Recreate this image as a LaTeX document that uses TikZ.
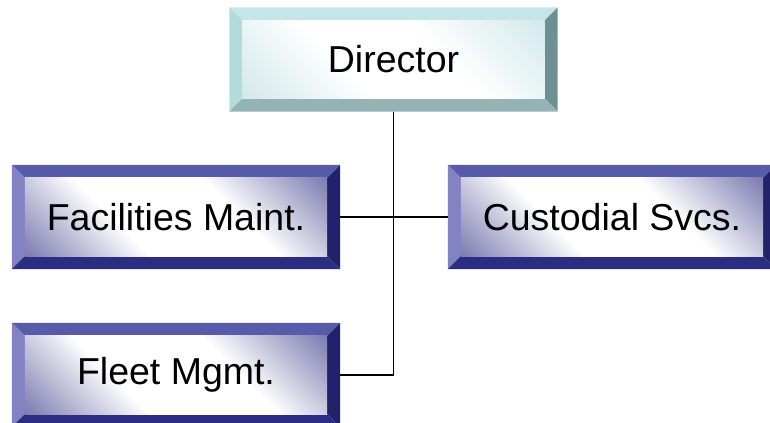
\documentclass[tikz,border=0pt]{standalone}
\usepackage{fontspec}
\setmainfont{Liberation Sans}
\usetikzlibrary{calc}
\definecolor{bltop}{HTML}{5A5AAB}
\definecolor{blleft}{HTML}{8383C4}
\definecolor{blright}{HTML}{22226A}
\definecolor{blbot}{HTML}{2C2C82}
\definecolor{bledge}{HTML}{7E7EB2}
\definecolor{drtop}{HTML}{C5E5E8}
\definecolor{drleft}{HTML}{B3DADD}
\definecolor{drright}{HTML}{6F9093}
\definecolor{drbot}{HTML}{93B3B5}
\definecolor{dredge}{HTML}{D3E9EB}
\pgfdeclareverticalshading{blface}{100bp}{color(0bp)=(bledge); color(15bp)=(bledge); color(38bp)=(white); color(62bp)=(white); color(85bp)=(bledge); color(100bp)=(bledge)}
\pgfdeclareverticalshading{drface}{100bp}{color(0bp)=(dredge); color(15bp)=(dredge); color(40bp)=(white); color(60bp)=(white); color(85bp)=(dredge); color(100bp)=(dredge)}
\def\bv{0.39cm}
\newcommand\bevelfill[5]{%
  \coordinate (bNW) at (path picture bounding box.north west);
  \coordinate (bNE) at (path picture bounding box.north east);
  \coordinate (bSW) at (path picture bounding box.south west);
  \coordinate (bSE) at (path picture bounding box.south east);
  \coordinate (iNW) at ([shift={(\bv,-\bv)}]bNW);
  \coordinate (iNE) at ([shift={(-\bv,-\bv)}]bNE);
  \coordinate (iSW) at ([shift={(\bv,\bv)}]bSW);
  \coordinate (iSE) at ([shift={(-\bv,\bv)}]bSE);
  \fill[#1] (bNW) -- (bNE) -- (iNE) -- (iNW) -- cycle;
  \fill[#2] (bNW) -- (iNW) -- (iSW) -- (bSW) -- cycle;
  \fill[#3] (bNE) -- (bSE) -- (iSE) -- (iNE) -- cycle;
  \fill[#4] (bSW) -- (iSW) -- (iSE) -- (bSE) -- cycle;
  \shade[shading=#5, shading angle=-45] (iNW) rectangle (iSE);
}
\tikzset{
  box/.style={inner sep=0pt, minimum width=9.84cm, minimum height=3.12cm,
    font=\fontsize{32}{38}\selectfont},
  bluebox/.style={box, path picture={\bevelfill{bltop}{blleft}{blright}{blbot}{blface}}},
  dirbox/.style={box, path picture={\bevelfill{drtop}{drleft}{drright}{drbot}{drface}}},
  link/.style={draw=black, line width=0.9pt}
}
\begin{document}
\begin{tikzpicture}[x=0.03cm, y=-0.03cm]
\useasboundingbox (0,0) rectangle (770,423);
\clip (0,0) rectangle (770,423);
\node[dirbox] (dir) at (393.5,59.5) {Director};
\node[bluebox] (fac) at (176,217) {Facilities Maint.};
\node[bluebox] (cus) at (612,217) {Custodial Svcs.};
\node[bluebox] (fleet) at (176,375) {Fleet Mgmt.};
\draw[link] (dir.south) -- (dir.south |- fleet.east) -- (fleet.east);
\draw[link] (fac.east) -- (cus.west);
\end{tikzpicture}
\end{document}
